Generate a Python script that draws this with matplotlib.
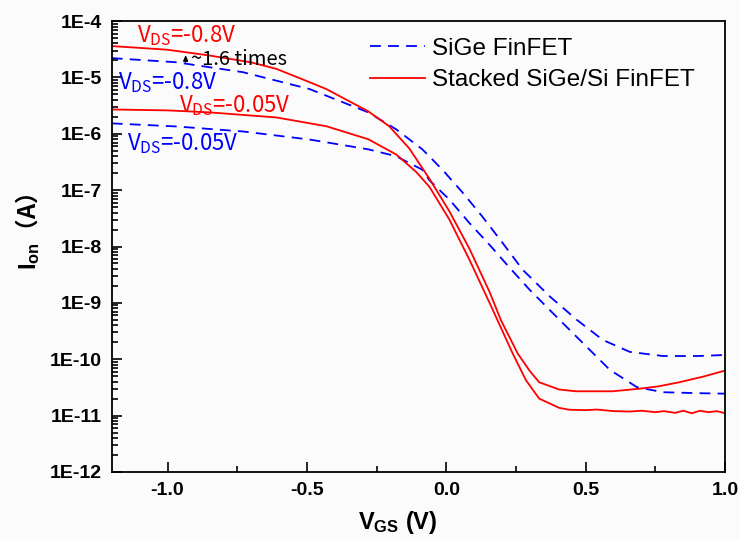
import numpy as np
import matplotlib
matplotlib.use('Agg')
from matplotlib import pyplot as plt
from matplotlib.ticker import FixedLocator, LogLocator, FuncFormatter, NullFormatter

plt.rcParams['axes.unicode_minus'] = False
plt.rcParams['mathtext.fontset'] = 'custom'
plt.rcParams['mathtext.rm'] = 'Liberation Sans:bold'
plt.rcParams['mathtext.it'] = 'Liberation Sans:bold'
plt.rcParams['mathtext.bf'] = 'Liberation Sans:bold'

#==========================================================#
#Data (V_GS in V, current in A)
#SiGe FinFET, V_DS = -0.8V
sige_hi_v = [-1.2, -0.97, -0.73, -0.49, -0.28, -0.18, -0.086, -0.014, 0.058, 0.129,
             0.201, 0.273, 0.371, 0.468, 0.561, 0.658, 0.777, 0.9, 1.0]
sige_hi_i = [2.2e-5, 1.86e-5, 1.24e-5, 6.2e-6, 2.4e-6, 1.2e-6, 5.3e-7, 2.3e-7, 9.1e-8, 3.4e-8,
             1.17e-8, 3.9e-9, 1.3e-9, 5.0e-10, 2.2e-10, 1.35e-10, 1.14e-10, 1.14e-10, 1.19e-10]
#SiGe FinFET, V_DS = -0.05V
sige_lo_v = [-1.2, -0.97, -0.73, -0.49, -0.28, -0.18, -0.086, -0.061, 0.011, 0.083, 0.155,
             0.227, 0.299, 0.396, 0.489, 0.586, 0.683, 0.777, 0.9, 1.0]
sige_lo_i = [1.53e-6, 1.35e-6, 1.1e-6, 7.9e-7, 5.3e-7, 4.0e-7, 2.3e-7, 1.5e-7, 6.8e-8, 2.6e-8, 1.07e-8,
             4.2e-9, 1.7e-9, 5.6e-10, 1.95e-10, 6.5e-11, 3.2e-11, 2.6e-11, 2.5e-11, 2.45e-11]
#Stacked SiGe/Si FinFET, V_DS = -0.8V
stk_hi_v = [-1.2, -1.0, -0.85, -0.7, -0.61, -0.5, -0.43, -0.28, -0.205, -0.133, -0.061, 0.011, 0.083,
            0.155, 0.196, 0.256, 0.298, 0.333, 0.405, 0.465, 0.596, 0.692, 0.76, 0.835, 0.92, 1.0]
stk_hi_i = [3.6e-5, 3.1e-5, 2.45e-5, 1.85e-5, 1.42e-5, 8.6e-6, 6.2e-6, 2.5e-6, 1.36e-6, 5.5e-7, 1.6e-7, 4.2e-8,
            9.1e-9, 1.56e-9, 4.9e-10, 1.26e-10, 6.3e-11, 3.9e-11, 2.9e-11, 2.7e-11, 2.7e-11, 3.0e-11,
            3.3e-11, 3.9e-11, 4.9e-11, 6.3e-11]
#Stacked SiGe/Si FinFET, V_DS = -0.05V
stk_lo_v = [-1.2, -1.0, -0.85, -0.61, -0.43, -0.28, -0.18, -0.108, -0.061, 0.011, 0.083, 0.155,
            0.238, 0.286, 0.333, 0.405, 0.441, 0.5, 0.54, 0.6, 0.658, 0.7, 0.75, 0.78, 0.82,
            0.85, 0.88, 0.91, 0.94, 0.97, 1.0]
stk_lo_i = [2.7e-6, 2.6e-6, 2.4e-6, 1.95e-6, 1.36e-6, 8.0e-7, 4.3e-7, 2.1e-7, 1.15e-7, 3.0e-8, 5.8e-9, 1.0e-9,
            1.26e-10, 4.2e-11, 2.0e-11, 1.37e-11, 1.27e-11, 1.25e-11, 1.28e-11, 1.2e-11, 1.18e-11,
            1.22e-11, 1.15e-11, 1.2e-11, 1.12e-11, 1.22e-11, 1.1e-11, 1.22e-11, 1.15e-11, 1.2e-11, 1.1e-11]

x_ticks = [-1.0, -0.5, 0.0, 0.5, 1.0]
y_decades = [1e-12, 1e-11, 1e-10, 1e-9, 1e-8, 1e-7, 1e-6, 1e-5, 1e-4]

#==========================================================#
fig = plt.figure(figsize=(7.4, 5.4), dpi=100, facecolor='#fbfbfb')
ax = fig.add_axes([0.151, 0.126, 0.829, 0.835])
ax.set_facecolor('#fbfbfb')

ax.semilogy(sige_hi_v, sige_hi_i, c='#0000ff', lw=1.3, ls=(0, (6, 4)), label='SiGe FinFET')
ax.semilogy(sige_lo_v, sige_lo_i, c='#0000ff', lw=1.3, ls=(0, (6, 4)))
ax.semilogy(stk_hi_v, stk_hi_i, c='#ff0000', lw=1.3, label='Stacked SiGe/Si FinFET')
ax.semilogy(stk_lo_v, stk_lo_i, c='#ff0000', lw=1.3)

ax.set_xlim(-1.2, 1.0)
ax.set_ylim(1e-12, 1e-4)

#Ticks, inward, bold labels
ax.xaxis.set_major_locator(FixedLocator(x_ticks))
ax.xaxis.set_minor_locator(FixedLocator([-0.75, -0.25, 0.25, 0.75]))
ax.xaxis.set_major_formatter(FuncFormatter(lambda v, p: '%.1f' % v))
ax.yaxis.set_major_locator(FixedLocator(y_decades))
ax.yaxis.set_minor_locator(LogLocator(base=10, subs=np.arange(2, 10), numticks=20))
ax.yaxis.set_major_formatter(FuncFormatter(lambda v, p: '1E%d' % round(np.log10(v))))
ax.yaxis.set_minor_formatter(NullFormatter())
ax.tick_params(which='both', direction='in', top=False, right=False, width=1.2)
ax.tick_params(which='major', length=7, labelsize=14, pad=7)
ax.tick_params(which='minor', length=4)
for lab in ax.get_xticklabels() + ax.get_yticklabels():
    lab.set_fontfamily('Liberation Sans')
    lab.set_fontweight('bold')
for sp in ax.spines.values():
    sp.set_linewidth(1.3)

ax.set_xlabel(r'$\mathrm{V_{GS}}$ (V)', fontsize=17, fontweight='bold', family='Liberation Sans')
ax.xaxis.label.set_va('center')
ax.xaxis.set_label_coords(0.467, -0.113)
ax.set_ylabel(r'$\mathrm{I_{on}}$（A）', fontsize=17, fontweight='bold', family='Noto Sans CJK SC')
ax.yaxis.set_label_coords(-0.114, 0.532)

#Annotations
tf = 'Noto Sans CJK SC'
ax.text(-1.111, 5.6e-5, r'V$_\mathregular{DS}$=-0.8V', color='#ff0000', fontsize=16, family=tf, va='center')
ax.text(-1.179, 7.9e-6, r'V$_\mathregular{DS}$=-0.8V', color='#0000ff', fontsize=16, family=tf, va='center')
ax.text(-0.957, 3.2e-6, r'V$_\mathregular{DS}$=-0.05V', color='#ff0000', fontsize=16, family=tf, va='center')
ax.text(-1.147, 6.8e-7, r'V$_\mathregular{DS}$=-0.05V', color='#0000ff', fontsize=16, family=tf, va='center')
ax.text(-0.915, 2.05e-5, '~1.6 times', color='black', fontsize=14.5, family=tf, va='center')
ax.annotate('', xy=(-0.935, 2.8e-5), xytext=(-0.935, 1.65e-5),
            arrowprops=dict(arrowstyle='-|>,head_length=0.35,head_width=0.15', color='black', lw=0.8))

leg = ax.legend(loc='upper left', bbox_to_anchor=(0.421, 0.963), frameon=False,
                prop={'family': 'Liberation Sans', 'size': 17.5}, handlelength=2.26,
                handletextpad=0.29, labelspacing=0.4, borderpad=0, borderaxespad=0)

plt.savefig('out.png', dpi=100, facecolor=fig.get_facecolor())
